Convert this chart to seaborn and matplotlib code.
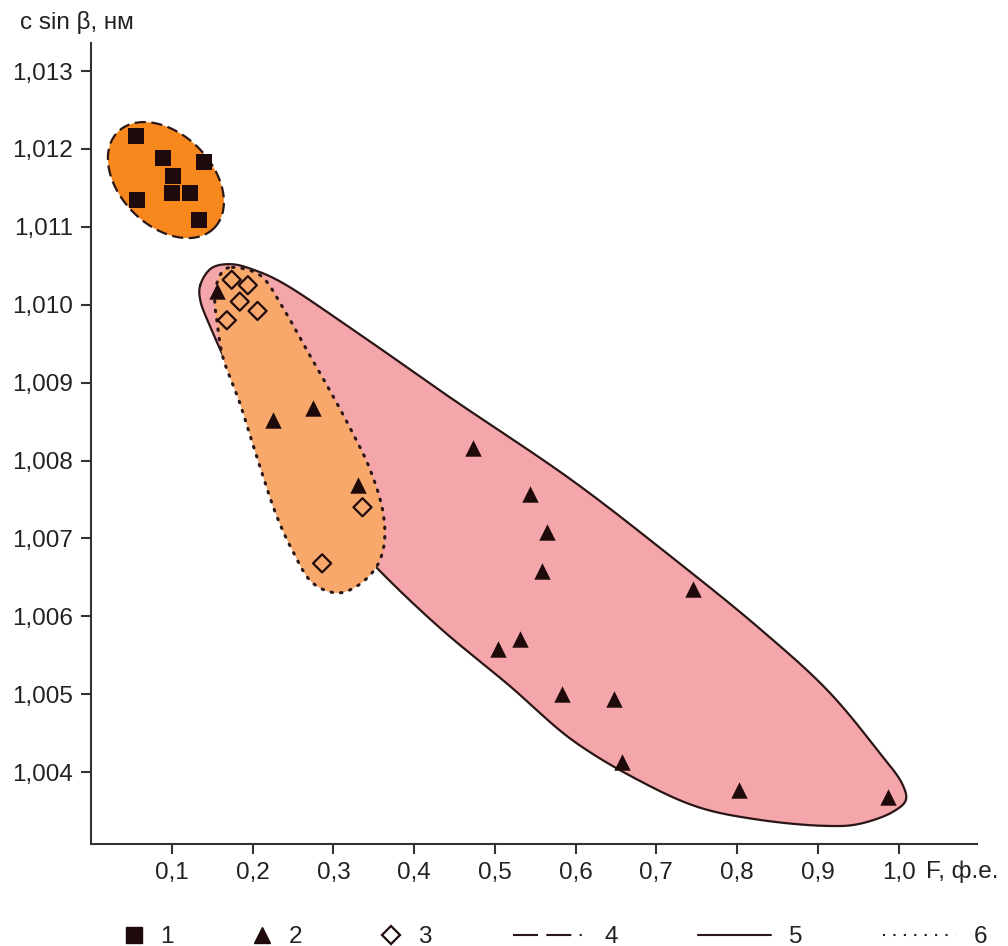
import numpy as np
import pandas as pd
import matplotlib
matplotlib.use("Agg")
import matplotlib.pyplot as plt
import seaborn as sns
from matplotlib.lines import Line2D

# ---------------- data ----------------
sq_x = [0.055, 0.089, 0.140, 0.101, 0.100, 0.122, 0.057, 0.133]
sq_y = [1.01217, 1.01188, 1.01183, 1.01165, 1.01143, 1.01143, 1.01134, 1.01109]

tri_x = [0.156, 0.225, 0.275, 0.330, 0.473, 0.544, 0.564, 0.558, 0.746,
         0.531, 0.504, 0.583, 0.648, 0.657, 0.802, 0.987]
tri_y = [1.01018, 1.00852, 1.00867, 1.00769, 1.00816, 1.00757, 1.00708, 1.00658,
         1.00635, 1.00571, 1.00558, 1.00500, 1.00494, 1.00413, 1.00377, 1.00368]

dia_x = [0.174, 0.194, 0.184, 0.206, 0.168, 0.336, 0.286]
dia_y = [1.01032, 1.01025, 1.01004, 1.00992, 1.00980, 1.00740, 1.00668]

# field outlines (data units)
field5_x = [0.135, 0.149, 0.174, 0.206, 0.237, 0.320, 0.443, 0.595, 0.719, 0.826,
            0.912, 0.974, 1.005, 1.009, 0.993, 0.949, 0.909, 0.826, 0.752, 0.679,
            0.596, 0.518, 0.432, 0.353, 0.283, 0.221, 0.178, 0.149, 0.135]
field5_y = [1.01025, 1.01047, 1.01052, 1.01043, 1.01028, 1.00971, 1.00882, 1.00775,
            1.00676, 1.00586, 1.00505, 1.00428, 1.00384, 1.00364, 1.00349, 1.00333,
            1.00331, 1.00339, 1.00355, 1.00389, 1.00441, 1.00511, 1.00585, 1.00663,
            1.00743, 1.00826, 1.00903, 1.00968, 1.01006]

field6_x = [0.175, 0.209, 0.237, 0.262, 0.295, 0.320, 0.344, 0.361, 0.363, 0.353,
            0.328, 0.304, 0.274, 0.249, 0.230, 0.209, 0.184, 0.163, 0.156, 0.153,
            0.157, 0.165]
field6_y = [1.01048, 1.01038, 1.00997, 1.00951, 1.00891, 1.00843, 1.00792, 1.00736,
            1.00694, 1.00663, 1.00638, 1.00630, 1.00643, 1.00685, 1.00728, 1.00792,
            1.00874, 1.00933, 1.00977, 1.01006, 1.01032, 1.01045]

field4_center = (0.0925, 1.01160)   # data
field4_axes_pt = (49.0, 33.0)       # semi-axes in points
field4_angle = -45.0                # degrees

x_ticks = [0.1, 0.2, 0.3, 0.4, 0.5, 0.6, 0.7, 0.8, 0.9, 1.0]
x_ticklabels = ["0,1", "0,2", "0,3", "0,4", "0,5", "0,6", "0,7", "0,8", "0,9", "1,0"]
y_ticks = [1.004, 1.005, 1.006, 1.007, 1.008, 1.009, 1.010, 1.011, 1.012, 1.013]
y_ticklabels = ["1,004", "1,005", "1,006", "1,007", "1,008", "1,009",
                "1,010", "1,011", "1,012", "1,013"]
legend_labels = ["1", "2", "3", "4", "5", "6"]

# ---------------- style ----------------
sns.set_theme(style="ticks")
plt.rcParams["font.family"] = ["Liberation Sans", "DejaVu Sans"]
plt.rcParams["axes.linewidth"] = 1.5

C_PINK = "#F4A6AA"
C_LORANGE = "#F8A86B"
C_ORANGE = "#F6881E"
C_MARK = "#1E0A0A"
C_LINE = "#2A1616"
C_AX = "#333333"
C_TXT = "#222222"
FS = 17.5

fig = plt.figure(figsize=(10.08, 9.46), dpi=100)
ax = fig.add_axes([0.0905, 0.1078, 0.879, 0.8467])
ax.set_xlim(0.0, 1.0975)
ax.set_ylim(1.003077, 1.013359)
fig.canvas.draw()


def closed_spline_display(xs, ys, n=24, alpha=0.5):
    """Centripetal Catmull-Rom through outline points, computed in display space."""
    P = ax.transData.transform(np.column_stack([xs, ys]))
    m = len(P)
    out = []
    for i in range(m):
        p0, p1, p2, p3 = P[(i - 1) % m], P[i], P[(i + 1) % m], P[(i + 2) % m]
        t0 = 0.0
        t1 = t0 + np.linalg.norm(p1 - p0) ** alpha
        t2 = t1 + np.linalg.norm(p2 - p1) ** alpha
        t3 = t2 + np.linalg.norm(p3 - p2) ** alpha
        t = np.linspace(t1, t2, n, endpoint=False)[:, None]
        a1 = (t1 - t) / (t1 - t0) * p0 + (t - t0) / (t1 - t0) * p1
        a2 = (t2 - t) / (t2 - t1) * p1 + (t - t1) / (t2 - t1) * p2
        a3 = (t3 - t) / (t3 - t2) * p2 + (t - t2) / (t3 - t2) * p3
        b1 = (t2 - t) / (t2 - t0) * a1 + (t - t0) / (t2 - t0) * a2
        b2 = (t3 - t) / (t3 - t1) * a2 + (t - t1) / (t3 - t1) * a3
        c = (t2 - t) / (t2 - t1) * b1 + (t - t1) / (t2 - t1) * b2
        out.append(c)
    out = np.vstack(out)
    out = np.vstack([out, out[:1]])
    return ax.transData.inverted().transform(out)


# field 5 (solid)
f5 = closed_spline_display(field5_x, field5_y)
ax.fill(f5[:, 0], f5[:, 1], color=C_PINK, zorder=1, lw=0)
ax.plot(f5[:, 0], f5[:, 1], color=C_LINE, lw=1.6, zorder=2)

# field 6 (dotted)
f6 = closed_spline_display(field6_x, field6_y)
ax.fill(f6[:, 0], f6[:, 1], color=C_LORANGE, zorder=3, lw=0)
ax.plot(f6[:, 0], f6[:, 1], color=C_LINE, lw=2.2, ls=(0, (0.5, 2.6)),
        dash_capstyle="round", zorder=4)

# field 4 (dashed ellipse), built in display space
cdisp = ax.transData.transform(field4_center)
a_px = field4_axes_pt[0] * fig.dpi / 72.0
b_px = field4_axes_pt[1] * fig.dpi / 72.0
th = np.deg2rad(field4_angle)
tt = np.linspace(0, 2 * np.pi, 300)
ex = a_px * np.cos(tt)
ey = b_px * np.sin(tt)
disp = np.column_stack([cdisp[0] + ex * np.cos(th) - ey * np.sin(th),
                        cdisp[1] + ex * np.sin(th) + ey * np.cos(th)])
ell = ax.transData.inverted().transform(disp)
ax.fill(ell[:, 0], ell[:, 1], color=C_ORANGE, zorder=3, lw=0)
ax.plot(ell[:, 0], ell[:, 1], color=C_LINE, lw=1.6, ls=(0, (5, 2.5)), zorder=4)

# points
df1 = pd.DataFrame({"F": sq_x, "c": sq_y})
df2 = pd.DataFrame({"F": tri_x, "c": tri_y})
df3 = pd.DataFrame({"F": dia_x, "c": dia_y})
sns.scatterplot(data=df1, x="F", y="c", marker="s", s=135, color=C_MARK,
                edgecolor=C_MARK, linewidth=0, ax=ax, zorder=6, legend=False)
sns.scatterplot(data=df2, x="F", y="c", marker="^", s=140, color=C_MARK,
                edgecolor=C_MARK, linewidth=0, ax=ax, zorder=6, legend=False)
sns.scatterplot(data=df3, x="F", y="c", marker="D", s=85, facecolor="none",
                edgecolor=C_MARK, linewidth=1.6, ax=ax, zorder=6, legend=False)

# axes styling
sns.despine(ax=ax)
for sp in ["left", "bottom"]:
    ax.spines[sp].set_color(C_AX)
    ax.spines[sp].set_linewidth(1.5)
ax.set_xticks(x_ticks)
ax.set_xticklabels(x_ticklabels)
ax.set_yticks(y_ticks)
ax.set_yticklabels(y_ticklabels)
ax.tick_params(axis="both", direction="out", length=7, width=1.5, color=C_AX,
               labelsize=FS, labelcolor=C_TXT)
ax.tick_params(axis="x", pad=6)
ax.tick_params(axis="y", pad=6)
ax.set_xlabel("")
ax.set_ylabel("")

fig.text(20 / 1008, 1 - 23 / 946, "c sin β, нм", fontsize=FS, color=C_TXT,
         ha="left", va="center")
fig.text(926 / 1008, 1 - 872 / 946, "F, ф.е.", fontsize=FS, color=C_TXT,
         ha="left", va="center")

# legend
h_mark = [
    Line2D([], [], marker="s", ls="none", color=C_MARK, ms=11),
    Line2D([], [], marker="^", ls="none", color=C_MARK, ms=12),
    Line2D([], [], marker="D", ls="none", mfc="none", mec=C_MARK, mew=1.6, ms=9),
]
leg1 = fig.legend(h_mark, legend_labels[:3], loc="center left",
                  bbox_to_anchor=(122 / 1008, 1 - 937 / 946), ncol=3, frameon=False,
                  fontsize=FS, handlelength=0.95, handletextpad=0.6,
                  columnspacing=3.2, borderpad=0, borderaxespad=0)
h_line = [
    Line2D([], [], color=C_LINE, lw=1.5, ls=(0, (12, 4, 12, 4, 1, 4))),
    Line2D([], [], color=C_LINE, lw=1.5, ls="-"),
    Line2D([], [], color=C_LINE, lw=1.5, ls=(0, (1, 4))),
]
leg2 = fig.legend(h_line, legend_labels[3:], loc="center left",
                  bbox_to_anchor=(513 / 1008, 1 - 937 / 946), ncol=3, frameon=False,
                  fontsize=FS, handlelength=3.0, handletextpad=0.75,
                  columnspacing=3.3, borderpad=0, borderaxespad=0)
for lg in (leg1, leg2):
    for txt in lg.get_texts():
        txt.set_color(C_TXT)

fig.savefig("out.png", dpi=100)
